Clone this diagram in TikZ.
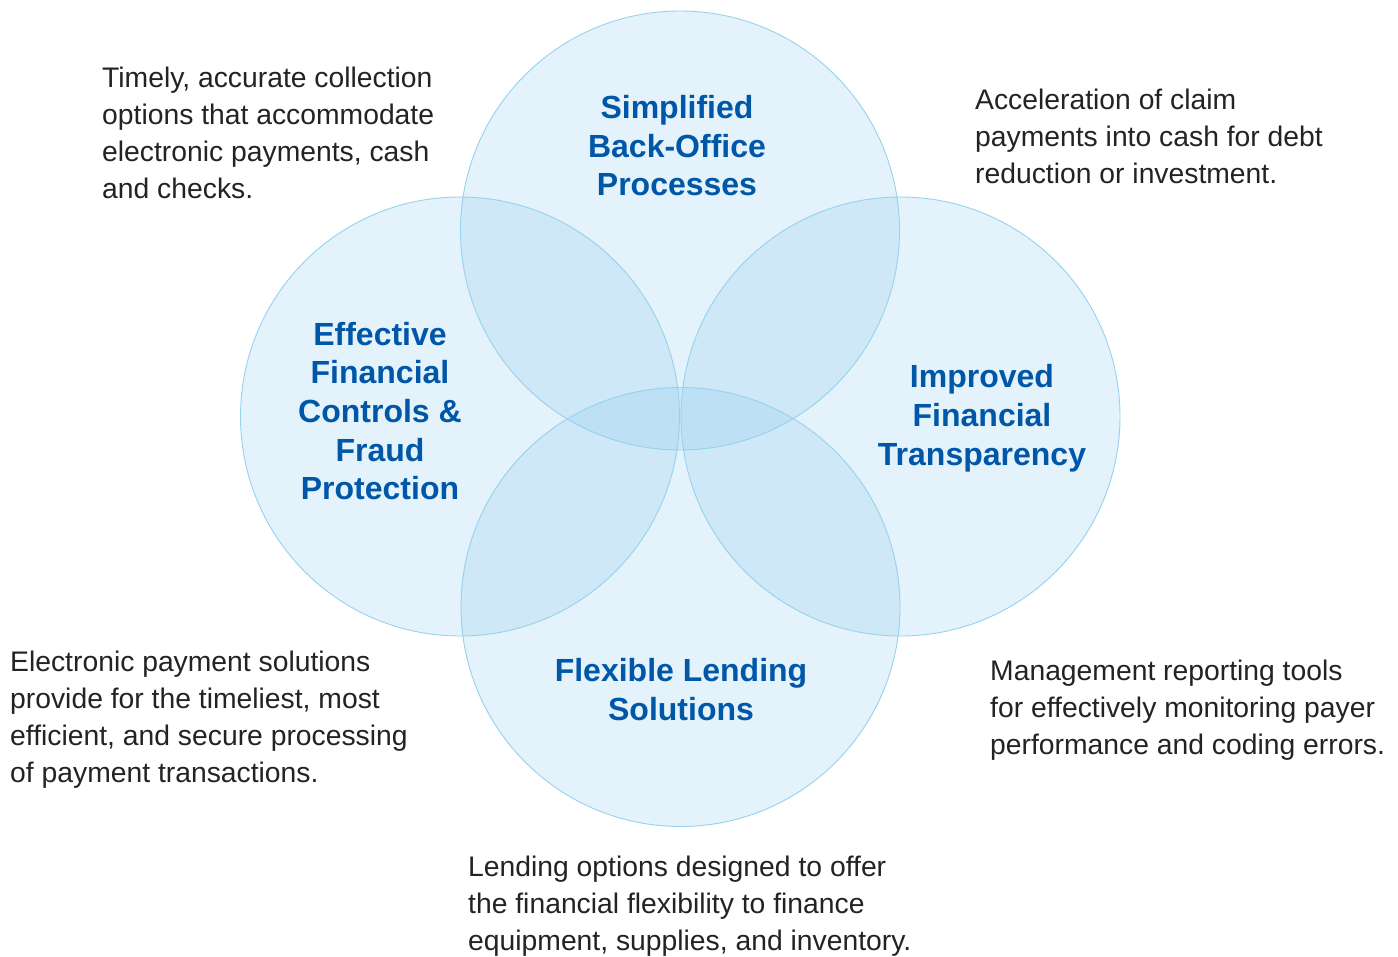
\documentclass[tikz,border=0pt]{standalone}
\usepackage{fontspec}
\setmainfont{Liberation Sans}
\definecolor{circfill}{RGB}{132,200,237}
\definecolor{circline}{RGB}{150,210,238}
\definecolor{headblue}{RGB}{0,87,168}
\definecolor{bodytext}{RGB}{35,35,35}
\tikzset{
  venn/.style={fill=circfill, fill opacity=0.22},
  head/.style={text=headblue, font=\fontsize{32}{38.7}\selectfont\bfseries, align=center, inner sep=0pt, anchor=base},
  body/.style={text=bodytext, font=\fontsize{28.3}{37}\selectfont, align=left, inner sep=0pt, anchor=base west},
}
\begin{document}
\begin{tikzpicture}[x=1pt,y=-1pt]
\useasboundingbox (0,0) rectangle (1398,957);
\fill[white] (0,0) rectangle (1398,957);
\def\R{219.5}
\fill[venn] (680,230.5) circle (\R);
\fill[venn] (460,416.5) circle (\R);
\fill[venn] (900.5,416.5) circle (\R);
\fill[venn] (680.5,607) circle (\R);
\draw[circline, line width=0.9pt] (680,230.5) circle (\R) (460,416.5) circle (\R) (900.5,416.5) circle (\R) (680.5,607) circle (\R);
% base anchor of a multi-line node = baseline of its last line
\node[head] (top) at (677,196) {Simplified\\Back-Office\\Processes};
\node[head] (left) at (380,500) {Effective\\Financial\\Controls \&\\Fraud\\Protection};
\node[head] (right) at (982,465) {Improved\\Financial\\Transparency};
\node[head] (bottom) at (681,720) {Flexible Lending\\Solutions};
\node[body] (tl) at (102,199) {Timely, accurate collection\\options that accommodate\\electronic payments, cash\\and checks.};
\node[body] (tr) at (975,184) {Acceleration of claim\\payments into cash for debt\\reduction or investment.};
\node[body] (bl) at (10,782) {Electronic payment solutions\\provide for the timeliest, most\\efficient, and secure processing\\of payment transactions.};
\node[body] (br) at (990,754) {Management reporting tools\\for effectively monitoring payer\\performance and coding errors.};
\node[body] (bt) at (468,950) {Lending options designed to offer\\the financial flexibility to finance\\equipment, supplies, and inventory.};
\end{tikzpicture}
\end{document}
